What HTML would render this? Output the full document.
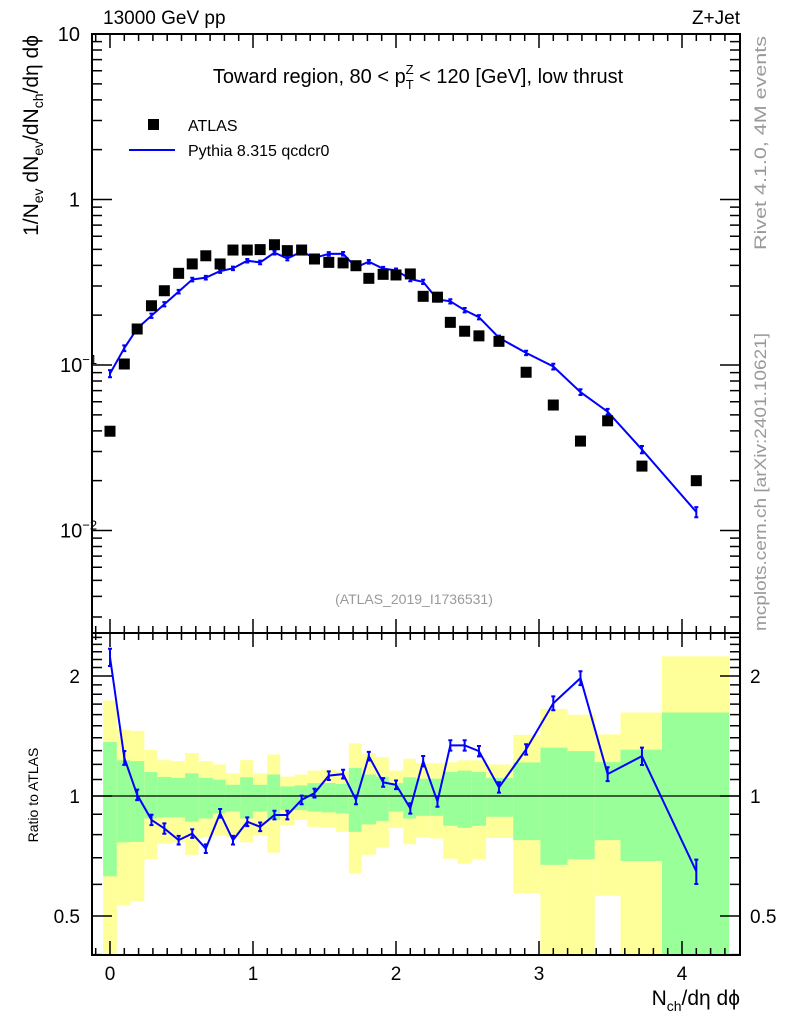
<!DOCTYPE html>
<html><head><meta charset="utf-8">
<style>
html,body{margin:0;padding:0;background:#fff;}
svg{display:block;font-family:"Liberation Sans",Arial,sans-serif;}
</style></head>
<body>
<svg id="chart" width="786" height="1024" viewBox="0 0 786 1024" xmlns="http://www.w3.org/2000/svg">
<g id="bands"></g>
<g id="marks"></g>
<g id="axes"></g>
<text x="103" y="24" font-size="19">13000 GeV pp</text>
<text x="740" y="24" font-size="19" text-anchor="end">Z+Jet</text>
<text x="418" y="83" font-size="20" text-anchor="middle">Toward region, 80 &lt; p<tspan font-size="13" dy="6">T</tspan><tspan font-size="13" dx="-8" dy="-15">Z</tspan><tspan dy="9"> &lt; 120 [GeV], low thrust</tspan></text>
<g>
<rect x="148" y="119" width="11" height="11" fill="#000"/>
<text x="188" y="131" font-size="16">ATLAS</text>
<line x1="129" y1="150" x2="175" y2="150" stroke="#0000ff" stroke-width="2"/>
<text x="188" y="156" font-size="16">Pythia 8.315 qcdcr0</text>
</g>
<text x="414" y="604" font-size="14" fill="#999" text-anchor="middle">(ATLAS_2019_I1736531)</text>
<text transform="translate(766,250) rotate(-90)" font-size="17" fill="#999" textLength="214" lengthAdjust="spacingAndGlyphs">Rivet 4.1.0,  4M events</text>
<text transform="translate(766,631) rotate(-90)" font-size="17" fill="#999" textLength="298" lengthAdjust="spacingAndGlyphs">mcplots.cern.ch [arXiv:2401.10621]</text>
<text transform="translate(38,35) rotate(-90)" font-size="21" text-anchor="end">1/N<tspan font-size="14" dy="5">ev</tspan><tspan dy="-5"> dN</tspan><tspan font-size="14" dy="5">ev</tspan><tspan dy="-5">/dN</tspan><tspan font-size="14" dy="5">ch</tspan><tspan dy="-5">/dη dϕ</tspan></text>
<text transform="translate(38,795) rotate(-90)" font-size="14" text-anchor="middle">Ratio to ATLAS</text>
<text x="740" y="1005" font-size="21" text-anchor="end">N<tspan font-size="14" dy="6">ch</tspan><tspan dy="-6">/dη dϕ</tspan></text>
</svg>
<script>
const xVals=[0,0.1,0.19,0.29,0.38,0.48,0.575,0.67,0.77,0.86,0.96,1.05,1.15,1.24,1.34,1.43,1.53,1.63,1.72,1.81,1.91,2.0,2.1,2.19,2.29,2.38,2.48,2.58,2.72,2.91,3.1,3.29,3.48,3.72,4.1];
const atlasVals=[0.0398,0.1014,0.165,0.228,0.281,0.358,0.408,0.457,0.408,0.495,0.495,0.498,0.533,0.491,0.495,0.437,0.417,0.414,0.398,0.334,0.353,0.350,0.355,0.26,0.257,0.181,0.160,0.150,0.139,0.0904,0.0573,0.0347,0.046,0.0245,0.020];
const ratioVals=[2.23,1.247,1.007,0.871,0.829,0.775,0.805,0.738,0.905,0.775,0.862,0.837,0.896,0.896,0.978,1.017,1.125,1.135,0.978,1.259,1.082,1.067,0.931,1.223,0.969,1.34,1.34,1.296,1.051,1.309,1.709,1.976,1.135,1.259,0.647];
const mcRelErr=[0.05,0.04,0.03,0.03,0.03,0.025,0.025,0.025,0.025,0.025,0.025,0.025,0.025,0.025,0.025,0.025,0.025,0.025,0.025,0.025,0.025,0.025,0.03,0.03,0.03,0.03,0.03,0.03,0.03,0.03,0.04,0.04,0.04,0.05,0.07];
const binLo=[-0.048,0.048,0.143,0.24,0.33,0.43,0.525,0.62,0.72,0.81,0.91,1.0,1.1,1.19,1.29,1.38,1.48,1.58,1.67,1.76,1.86,1.95,2.05,2.14,2.24,2.33,2.43,2.53,2.63,2.82,3.01,3.2,3.39,3.57,3.86];
const binHi=[0.048,0.143,0.24,0.33,0.43,0.525,0.62,0.72,0.81,0.91,1.0,1.1,1.19,1.29,1.38,1.48,1.58,1.67,1.76,1.86,1.95,2.05,2.14,2.24,2.33,2.43,2.53,2.63,2.82,3.01,3.2,3.39,3.57,3.86,4.33];
const yellowHi=[1.735,1.465,1.457,1.306,1.23,1.223,1.281,1.223,1.2,1.14,1.23,1.14,1.271,1.118,1.132,1.158,1.165,1.153,1.355,1.281,1.252,1.158,1.24,1.209,1.209,1.214,1.229,1.229,1.2,1.424,1.653,1.599,1.428,1.62,2.24];
const greenHi=[1.366,1.229,1.223,1.149,1.117,1.11,1.14,1.11,1.099,1.067,1.114,1.067,1.132,1.057,1.063,1.077,1.078,1.072,1.176,1.132,1.117,1.077,1.114,1.105,1.105,1.149,1.158,1.149,1.11,1.214,1.322,1.296,1.216,1.307,1.62];
const greenLo=[0.629,0.765,0.767,0.878,0.884,0.884,0.862,0.878,0.905,0.914,0.878,0.914,0.871,0.922,0.922,0.914,0.91,0.905,0.813,0.849,0.866,0.914,0.878,0.892,0.892,0.842,0.832,0.842,0.887,0.775,0.672,0.694,0.775,0.687,0.3];
const yellowLo=[0.3,0.532,0.545,0.694,0.759,0.765,0.712,0.789,0.795,0.789,0.765,0.797,0.721,0.845,0.871,0.837,0.835,0.813,0.638,0.712,0.742,0.832,0.757,0.789,0.782,0.696,0.676,0.694,0.785,0.571,0.3,0.402,0.562,0.3,0.3];
const xTicks=[0,1,2,3,4];
const ratioTicks=[0.5,1,2];

const NS="http://www.w3.org/2000/svg";
const L=92,R=740,T=34,MB=633,RB=955;
const X0=110,XS=143;
function sx(v){return X0+v*XS;}
function sy(v){return T+(1-Math.log10(v))*165.5;}
function ry(v){return 796-Math.log2(v)*120;}
function clampR(y){return Math.max(MB,Math.min(RB,y));}
function el(tag,attrs,parent){const e=document.createElementNS(NS,tag);for(const k in attrs)e.setAttribute(k,attrs[k]);parent.appendChild(e);return e;}
const bands=document.getElementById('bands'),marks=document.getElementById('marks'),axes=document.getElementById('axes');

for(let i=0;i<binLo.length;i++){
  const x1=Math.max(L,sx(binLo[i])),x2=Math.min(R,sx(binHi[i]));
  const yb=el('rect',{x:x1,y:clampR(ry(yellowHi[i])),width:x2-x1,height:clampR(ry(yellowLo[i]))-clampR(ry(yellowHi[i])),fill:'#ffff99'},bands);
  
  
  const gb=el('rect',{x:x1,y:clampR(ry(greenHi[i])),width:x2-x1,height:clampR(ry(greenLo[i]))-clampR(ry(greenHi[i])),fill:'#99ff99'},bands);
  
  
}
const unity=el('line',{x1:L,x2:R,y1:ry(1),y2:ry(1),stroke:'#000','stroke-width':1.2},bands);



const mcVals=atlasVals.map((d,i)=>d*ratioVals[i]);
let p='';
mcVals.forEach((v,i)=>{p+=(i?'L':'M')+sx(xVals[i])+','+sy(v);});
const mcLine=el('path',{d:p,fill:'none',stroke:'#0000ff','stroke-width':2},marks);


mcVals.forEach((v,i)=>{
  const x=sx(xVals[i]),y1=sy(v*(1+mcRelErr[i])),y2=sy(v*(1-mcRelErr[i]));
  const eb=el('path',{d:`M${x},${y1}L${x},${y2}M${x-2},${y1}L${x+2},${y1}M${x-2},${y2}L${x+2},${y2}`,stroke:'#0000ff','stroke-width':2,fill:'none'},marks);
  
  
});
atlasVals.forEach((v,i)=>{
  const r=el('rect',{x:sx(xVals[i])-5.5,y:sy(v)-5.5,width:11,height:11,fill:'#000'},marks);
  
  
});
let rp='';
ratioVals.forEach((v,i)=>{rp+=(i?'L':'M')+sx(xVals[i])+','+ry(v);});
const rl=el('path',{d:rp,fill:'none',stroke:'#0000ff','stroke-width':2},marks);


ratioVals.forEach((v,i)=>{
  const x=sx(xVals[i]),y1=ry(v*(1+mcRelErr[i])),y2=ry(v*(1-mcRelErr[i]));
  const eb=el('path',{d:`M${x},${y1}L${x},${y2}M${x-2},${y1}L${x+2},${y1}M${x-2},${y2}L${x+2},${y2}`,stroke:'#0000ff','stroke-width':2,fill:'none'},marks);
  
  
});

const f1=el('rect',{x:L,y:T,width:R-L,height:MB-T,fill:'none',stroke:'#000','stroke-width':2},axes);


const f2=el('rect',{x:L,y:MB,width:R-L,height:RB-MB,fill:'none',stroke:'#000','stroke-width':2},axes);



let tk='';
for(let m=-1;m<=45;m++){
  const v=m/10,x=sx(v);if(x<L+1||x>R-1)continue;
  const len=(m%10===0)?14:7;
  tk+=`M${x},${T}L${x},${T+len}M${x},${MB}L${x},${MB-len}M${x},${MB}L${x},${MB+len}M${x},${RB}L${x},${RB-len}`;
}
for(let d=-3;d<=0;d++){for(let k=1;k<10;k++){const v=k*Math.pow(10,d);const y=sy(v);if(y>MB||y<T)continue;const len=k===1?20:10;tk+=`M${L},${y}L${L+len},${y}M${R},${y}L${R-len},${y}`;}}
tk+=`M${L},${sy(10)}L${L+20},${sy(10)}`;
[0.4,0.5,0.6,0.7,0.8,0.9,1,1.1,1.2,1.3,1.4,1.5,1.6,1.7,1.8,1.9,2,2.1,2.2,2.3,2.4,2.5].forEach(v=>{const y=ry(v);if(y<MB||y>RB)return;const len=(v===0.5||v===1||v===2)?20:10;tk+=`M${L},${y}L${L+len},${y}M${R},${y}L${R-len},${y}`;});
const tp=el('path',{d:tk,stroke:'#000','stroke-width':1.5,fill:'none'},axes);



xTicks.forEach(v=>{
  const t=el('text',{x:sx(v),y:980,'font-size':19,'text-anchor':'middle'},axes);t.textContent=v;
  
  
});
const mainLabels=[[10,'10',''],[1,'1',''],[0.1,'10','−1'],[0.01,'10','−2']];
mainLabels.forEach(m=>{
  const t=el('text',{x:80,y:sy(m[0])+7,'font-size':20,'text-anchor':'end'},axes);
  t.textContent=m[1];
  if(m[2]){const s=document.createElementNS(NS,'tspan');s.setAttribute('font-size','13');s.setAttribute('dy','-8');s.textContent=m[2];t.appendChild(s);t.setAttribute('x','60');t.setAttribute('text-anchor','start');}
  
  
});
ratioTicks.forEach(v=>{
  const t=el('text',{x:80,y:ry(v)+7,'font-size':19,'text-anchor':'end'},axes);t.textContent=v;
  
  
  const t2=el('text',{x:750,y:ry(v)+7,'font-size':19},axes);t2.textContent=v;
  
  
});
</script>
</body></html>
